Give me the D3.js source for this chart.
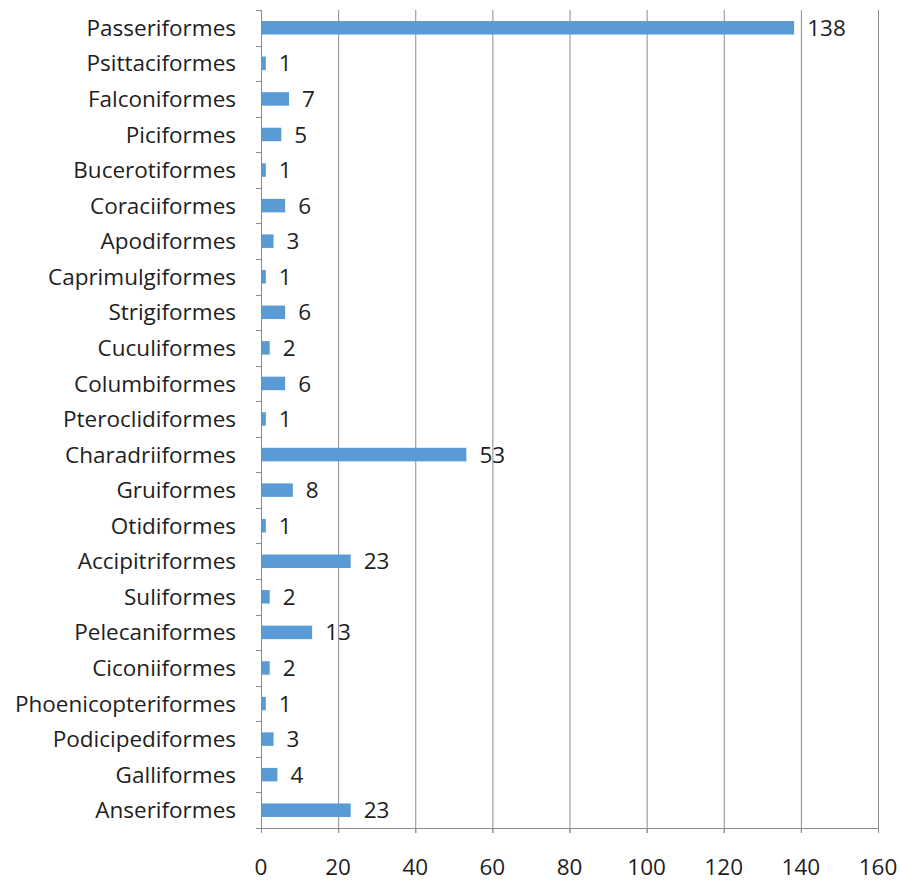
<!DOCTYPE html>
<html><head><meta charset="utf-8">
<script src="https://cdn.jsdelivr.net/npm/d3@7"></script>
<style>body{margin:0;background:#fff}svg text{font-family:"Open Sans",sans-serif;fill:#1e1e1e}</style>
</head><body><svg id="c" width="900" height="881"></svg>
<script>
const categories = ["Passeriformes","Psittaciformes","Falconiformes","Piciformes","Bucerotiformes","Coraciiformes","Apodiformes","Caprimulgiformes","Strigiformes","Cuculiformes","Columbiformes","Pteroclidiformes","Charadriiformes","Gruiformes","Otidiformes","Accipitriformes","Suliformes","Pelecaniformes","Ciconiiformes","Phoenicopteriformes","Podicipediformes","Galliformes","Anseriformes"];
const values = [138,1,7,5,1,6,3,1,6,2,6,1,53,8,1,23,2,13,2,1,3,4,23];
const xTicks = [0,20,40,60,80,100,120,140,160];

const svg = d3.select("#c");
const L = 261, R = 878, T = 10, B = 828, FS = 22.5;
const x = d3.scaleLinear().domain([0,160]).range([L,R]);
const y = d3.scaleBand().domain(categories).range([T,B]).paddingInner(0.62).paddingOuter(0.31);

svg.append("g").selectAll("line").data(xTicks.slice(1)).join("line")
  .attr("x1",d=>x(d)+0.5).attr("x2",d=>x(d)+0.5).attr("y1",T).attr("y2",B+5)
  .attr("stroke","#8c8c8c").attr("stroke-width",1);

svg.append("g").selectAll("rect").data(values).join("rect")
  .attr("x",x(0)+1).attr("y",(d,i)=>y(categories[i]))
  .attr("width",d=>x(d)-x(0)).attr("height",y.bandwidth())
  .attr("fill","#5b9bd5");

svg.append("g").selectAll("text").data(values).join("text")
  .attr("x",d=>x(d)+14).attr("y",(d,i)=>y(categories[i])+y.bandwidth()/2)
  .attr("dy","0.36em").attr("font-size",FS).text(d=>d);

const step = (B-T)/categories.length;
const ya = svg.append("g");
ya.append("line").attr("x1",L+0.5).attr("x2",L+0.5).attr("y1",T).attr("y2",B).attr("stroke","#8c8c8c");
ya.selectAll("line.t").data(d3.range(categories.length+1)).join("line").attr("class","t")
  .attr("x1",L-5).attr("x2",L).attr("y1",i=>Math.round(T+i*step)+0.5).attr("y2",i=>Math.round(T+i*step)+0.5)
  .attr("stroke","#8c8c8c");
ya.selectAll("text").data(categories).join("text")
  .attr("x",L-25).attr("y",d=>y(d)+y.bandwidth()/2).attr("dy","0.36em")
  .attr("text-anchor","end").attr("font-size",FS).text(d=>d);

const xa = svg.append("g");
xa.append("line").attr("x1",L).attr("x2",R+1).attr("y1",B+0.5).attr("y2",B+0.5).attr("stroke","#8c8c8c");
xa.selectAll("line.t").data(xTicks).join("line").attr("class","t")
  .attr("x1",d=>x(d)+0.5).attr("x2",d=>x(d)+0.5).attr("y1",B).attr("y2",B+5).attr("stroke","#8c8c8c");
xa.selectAll("text").data(xTicks).join("text")
  .attr("x",d=>x(d)).attr("y",867).attr("dy","0.36em").attr("text-anchor","middle")
  .attr("font-size",FS).text(d=>d);
</script></body></html>
